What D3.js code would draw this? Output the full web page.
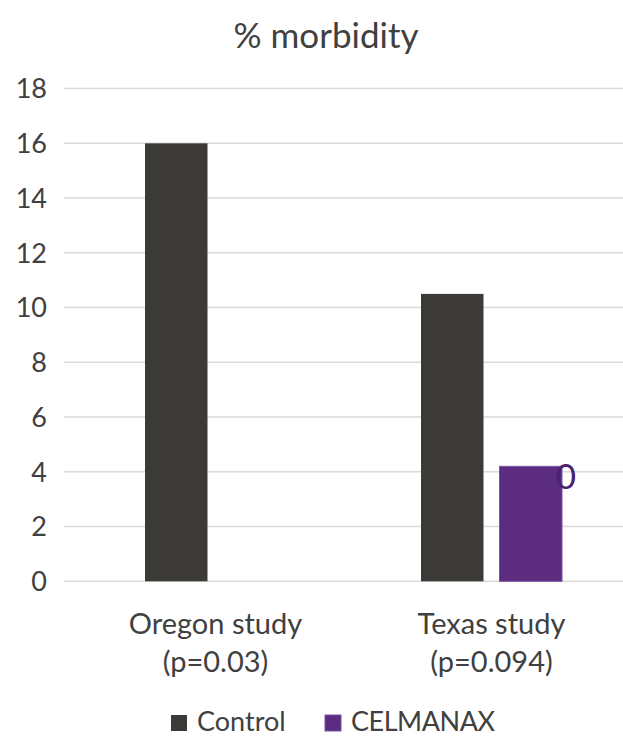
<!DOCTYPE html>
<html>
<head>
<meta charset="utf-8">
<script src="https://cdn.jsdelivr.net/npm/d3@7"></script>
<style>
  body { margin: 0; background: #fff; }
  text { font-family: Lato, "Open Sans", sans-serif; fill: #404040; }
</style>
</head>
<body>
<svg id="chart"></svg>
<script>
const categories = ["Oregon study|(p=0.03)", "Texas study|(p=0.094)"];
const seriesNames = ["Control", "CELMANAX"];
const control = [16, 10.5];
const celmanax = [0, 4.2];
const celmanaxLabels = [null, "0"];
const yTicks = [0, 2, 4, 6, 8, 10, 12, 14, 16, 18];

const width = 623, height = 737;
const colors = { Control: "#3b3a37", CELMANAX: "#5b2c80" };

const svg = d3.select("#chart").attr("width", width).attr("height", height);

const y = d3.scaleLinear().domain([0, 18]).range([581.3, 88.6]);
const x0 = d3.scaleBand().domain(categories).range([77.5, 629.5]);
const x1 = d3.scaleBand().domain(seriesNames).range([0, 141]).paddingInner(0.204);

// title
svg.append("text")
  .attr("x", 326).attr("y", 48)
  .attr("text-anchor", "middle")
  .style("font-size", "35px")
  .text("% morbidity");

// gridlines
svg.append("g")
  .selectAll("line")
  .data(yTicks)
  .join("line")
  .attr("x1", 64).attr("x2", width)
  .attr("y1", d => y(d)).attr("y2", d => y(d))
  .attr("stroke", "#d9d9d9")
  .attr("stroke-width", 1.5);

// y tick labels
svg.append("g")
  .selectAll("text")
  .data(yTicks)
  .join("text")
  .attr("x", 47)
  .attr("y", d => y(d))
  .attr("dy", "0.36em")
  .attr("text-anchor", "end")
  .style("font-size", "27px")
  .text(d => d);

const rows = categories.map((c, i) => ({
  cat: c,
  values: [
    { name: "Control", v: control[i], label: null },
    { name: "CELMANAX", v: celmanax[i], label: celmanaxLabels[i] }
  ]
}));

const groups = svg.append("g")
  .selectAll("g")
  .data(rows)
  .join("g")
  .attr("transform", d => `translate(${x0(d.cat) + (x0.bandwidth() - 141) / 2},0)`);

groups.selectAll("rect")
  .data(d => d.values.filter(v => v.v > 0))
  .join("rect")
  .attr("x", d => x1(d.name))
  .attr("width", x1.bandwidth())
  .attr("y", d => y(d.v))
  .attr("height", d => y(0) - y(d.v))
  .attr("fill", d => colors[d.name])
  .attr("stroke", d => d.name === "CELMANAX" ? "#7b52a3" : "none")
  .attr("stroke-width", 1);

// data label
groups.selectAll("text.lbl")
  .data(d => d.values.filter(v => v.label))
  .join("text")
  .attr("class", "lbl")
  .attr("x", d => x1(d.name) + x1.bandwidth() + 4)
  .attr("y", d => y(d.v))
  .attr("dy", "0.65em")
  .attr("text-anchor", "middle")
  .style("font-size", "35px")
  .style("fill", "#4b2170")
  .text(d => d.label);

// category labels
const cats = svg.append("g")
  .selectAll("text")
  .data(categories)
  .join("text")
  .attr("text-anchor", "middle")
  .style("font-size", "29px");
cats.each(function(d) {
  const cx = x0(d) + x0.bandwidth() / 2;
  d.split("|").forEach((line, i) => {
    d3.select(this).append("tspan")
      .attr("x", cx)
      .attr("y", 634 + i * 38)
      .text(line);
  });
});

// legend
const legendX = [171, 325];
const legend = svg.append("g")
  .selectAll("g")
  .data(seriesNames)
  .join("g")
  .attr("transform", (d, i) => `translate(${legendX[i]},715)`);
legend.append("rect")
  .attr("width", 16).attr("height", 16)
  .attr("fill", d => colors[d])
  .attr("stroke", d => d === "CELMANAX" ? "#7b52a3" : "none");
legend.append("text")
  .attr("x", 26).attr("y", 16)
  .style("font-size", "27px")
  .attr("textLength", d => d === "CELMANAX" ? 144 : null)
  .text(d => d);
</script>
</body>
</html>
